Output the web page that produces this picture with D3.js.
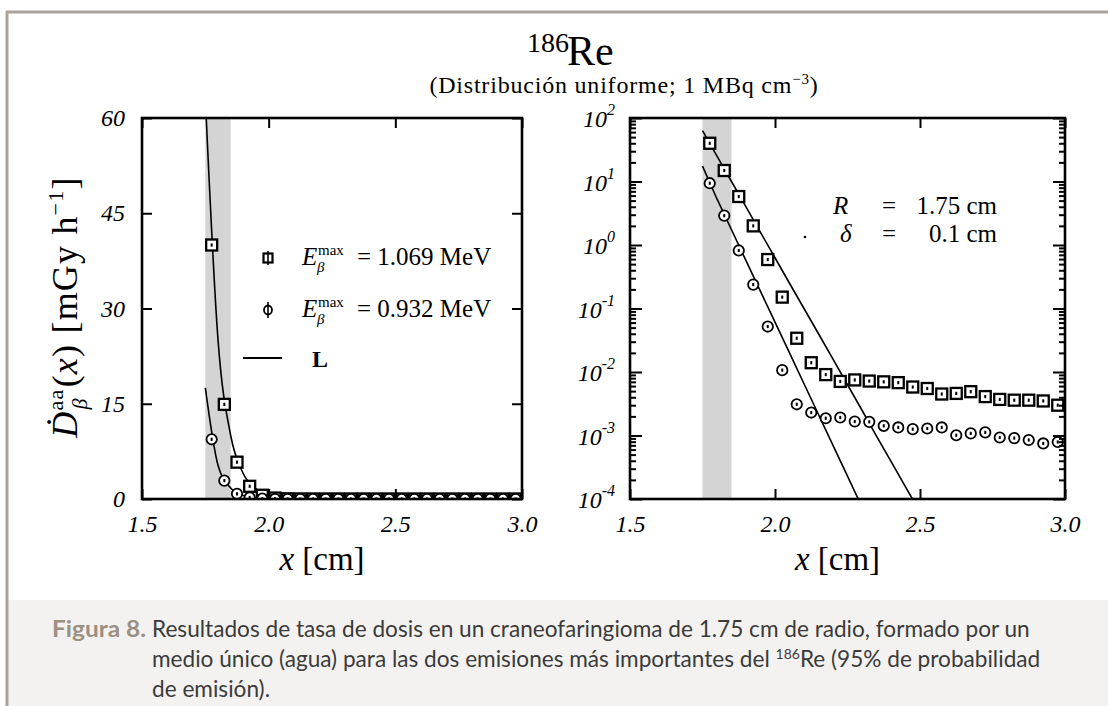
<!DOCTYPE html>
<html>
<head>
<meta charset="utf-8">
<script src="https://cdn.jsdelivr.net/npm/d3@7"></script>
<style>
body { margin: 0; background: #fff; }
svg { display: block; }
</style>
</head>
<body>
<div id="chart"></div>
<script>
var width = 1108;
var height = 706;

// data -------------------------------------------------------------
var xPoints = [1.775, 1.825, 1.875, 1.925, 1.975, 2.025, 2.075, 2.125, 2.175, 2.225,
	2.275, 2.325, 2.375, 2.425, 2.475, 2.525, 2.575, 2.625, 2.675, 2.725,
	2.775, 2.825, 2.875, 2.925, 2.975];

// E max = 1.069 MeV (squares)
var squareVals = [40, 14.9, 5.8, 2.0, 0.59, 0.151, 0.034, 0.014, 0.0091, 0.0071,
	0.0075, 0.0072, 0.0070, 0.0068, 0.0058, 0.0055, 0.0045, 0.0046, 0.0049, 0.0041,
	0.0037, 0.0036, 0.0036, 0.0035, 0.0030];

// E max = 0.932 MeV (circles)
var circleVals = [9.4, 2.9, 0.82, 0.238, 0.052, 0.0107, 0.0031, 0.0023, 0.00187, 0.00192,
	0.00166, 0.00164, 0.00142, 0.00134, 0.00126, 0.00129, 0.00134, 0.00101, 0.00108, 0.00112,
	0.00093, 0.00091, 0.00085, 0.00075, 0.00079];

// curve L
var lineXSquare = [1.75, 1.80, 1.85, 1.90, 1.95, 2.00, 2.05, 2.10, 2.15, 2.20, 2.25, 2.30, 2.35, 2.40, 2.45, 2.474];
var lineSquare = [63.1, 25.1, 10.0, 3.98, 1.58, 0.63, 0.25, 0.10, 0.040, 0.016, 0.0063, 0.0025, 0.00098, 0.00039, 0.000155, 0.0001];
var lineXCircle = [1.75, 1.80, 1.85, 1.90, 1.95, 2.00, 2.05, 2.10, 2.15, 2.20, 2.25, 2.287];
var lineCircle = [17.5, 5.31, 1.74, 0.569, 0.186, 0.061, 0.020, 0.00653, 0.00214, 0.0007, 0.000229, 0.0001];

var bandRange = [1.75, 1.85];
var xTickLabels = [1.5, 2.0, 2.5, 3.0];
var linTicks = [0, 15, 30, 45, 60];
var logDecades = [-4, -3, -2, -1, 0, 1, 2];
var legendLabels = ["= 1.069 MeV", "= 0.932 MeV"];

var serif = "'Liberation Serif', 'Times New Roman', serif";

// scales -----------------------------------------------------------
var xL = d3.scaleLinear().domain([1.5, 3]).range([142, 522]);
var yL = d3.scaleLinear().domain([0, 60]).range([499, 118]);
var xR = d3.scaleLinear().domain([1.5, 3]).range([630, 1065]);
var yR = d3.scaleLog().domain([1e-4, 1e2]).range([499, 118]);

var svg = d3.select("#chart")
	.append("svg")
	.attr("width", width)
	.attr("height", height);

// frame + caption background ---------------------------------------
svg.append("rect")
	.attr("x", 8).attr("y", 600)
	.attr("width", width - 8).attr("height", height - 600)
	.attr("fill", "#f3f2f0");
svg.append("line")
	.attr("x1", 6).attr("x2", width).attr("y1", 12).attr("y2", 12)
	.attr("stroke", "#aba297").attr("stroke-width", 3);
svg.append("line")
	.attr("x1", 7).attr("x2", 7).attr("y1", 11).attr("y2", height)
	.attr("stroke", "#aba297").attr("stroke-width", 3);

// titles -----------------------------------------------------------
svg.append("text")
	.attr("x", 527).attr("y", 52)
	.attr("font-family", serif).attr("font-size", 28)
	.text("186");
svg.append("text")
	.attr("x", 567).attr("y", 65)
	.attr("font-family", serif).attr("font-size", 42)
	.text("Re");

var sub = svg.append("text")
	.attr("x", 624).attr("y", 93)
	.attr("text-anchor", "middle")
	.attr("letter-spacing", 0.8)
	.attr("font-family", serif).attr("font-size", 24);
sub.append("tspan").text("(Distribución uniforme; 1 MBq cm");
sub.append("tspan").attr("dy", -9).attr("font-size", 15).text("\u22123");
sub.append("tspan").attr("dy", 9).text(")");

// panels -----------------------------------------------------------
function panel(id, x, y, isLog) {
	var g = svg.append("g");
	var r = x.range(), t = y.range();

	g.append("clipPath").attr("id", id)
		.append("rect")
		.attr("x", r[0]).attr("y", t[1])
		.attr("width", r[1] - r[0]).attr("height", t[0] - t[1]);

	var inner = g.append("g").attr("clip-path", "url(#" + id + ")");

	// shaded band
	inner.append("rect")
		.attr("x", x(bandRange[0]))
		.attr("y", t[1])
		.attr("width", x(bandRange[1]) - x(bandRange[0]))
		.attr("height", t[0] - t[1])
		.attr("fill", "#d4d4d4");

	// L lines
	var line = d3.line()
		.x(function(d) { return x(d[0]); })
		.y(function(d) { return y(d[1]); })
		.curve(isLog ? d3.curveLinear : d3.curveMonotoneX);

	[[lineXSquare, lineSquare], [lineXCircle, lineCircle]].forEach(function(s) {
		inner.append("path")
			.datum(d3.zip(s[0], s[1]))
			.attr("d", line)
			.attr("fill", "none")
			.attr("stroke", "#000")
			.attr("stroke-width", 1.6);
	});

	// squares
	var sq = inner.selectAll(".sq")
		.data(d3.zip(xPoints, squareVals))
		.join("g")
		.attr("transform", function(d) { return "translate(" + x(d[0]) + "," + y(d[1]) + ")"; });
	sq.append("rect")
		.attr("x", -5.5).attr("y", -5.5).attr("width", 11).attr("height", 11)
		.attr("fill", "#fff").attr("stroke", "#000").attr("stroke-width", 2.3);
	sq.append("line")
		.attr("y1", -1.6).attr("y2", 1.6)
		.attr("stroke", "#000").attr("stroke-width", 2);

	// circles
	var ci = inner.selectAll(".ci")
		.data(d3.zip(xPoints, circleVals))
		.join("g")
		.attr("transform", function(d) { return "translate(" + x(d[0]) + "," + y(d[1]) + ")"; });
	ci.append("circle")
		.attr("r", 5.2)
		.attr("fill", "#fff").attr("stroke", "#000").attr("stroke-width", 1.8);
	ci.append("line")
		.attr("y1", -1.6).attr("y2", 1.6)
		.attr("stroke", "#000").attr("stroke-width", 2);

	// axes
	function style(a) {
		a.select(".domain").remove();
		a.selectAll(".tick line").attr("stroke-width", 2);
		a.attr("font-family", serif).attr("font-size", 24).attr("font-style", "italic");
		a.selectAll("text").attr("fill", "#000");
	}

	g.append("g").attr("transform", "translate(0," + t[0] + ")")
		.call(d3.axisBottom(x).tickValues(xTickLabels).tickSize(-10).tickPadding(16).tickFormat(d3.format(".1f")))
		.call(style);
	g.append("g").attr("transform", "translate(0," + t[1] + ")")
		.call(d3.axisTop(x).tickValues(xTickLabels).tickSize(-10).tickFormat(""))
		.call(style);

	if (!isLog) {
		g.append("g").attr("transform", "translate(" + r[0] + ",0)")
			.call(d3.axisLeft(y).tickValues(linTicks).tickSize(-10).tickPadding(17))
			.call(style);
		g.append("g").attr("transform", "translate(" + r[1] + ",0)")
			.call(d3.axisRight(y).tickValues(linTicks).tickSize(-10).tickFormat(""))
			.call(style);
	} else {
		var major = logDecades.map(function(d) { return Math.pow(10, d); });
		var minor = y.ticks().filter(function(v) {
			var l = Math.log10(v);
			return Math.abs(l - Math.round(l)) > 1e-6;
		});
		[[d3.axisLeft, r[0]], [d3.axisRight, r[1]]].forEach(function(a) {
			g.append("g").attr("transform", "translate(" + a[1] + ",0)")
				.call(a[0](y).tickValues(major).tickSize(-12).tickFormat(""))
				.call(style);
			g.append("g").attr("transform", "translate(" + a[1] + ",0)")
				.call(a[0](y).tickValues(minor).tickSize(-6).tickFormat(""))
				.call(style);
		});
		var labs = g.selectAll(".ylab")
			.data(logDecades)
			.join("text")
			.attr("x", 615)
			.attr("y", function(d) { return y(Math.pow(10, d)) + 9; })
			.attr("text-anchor", "end")
			.attr("font-family", serif).attr("font-style", "italic").attr("font-size", 24);
		labs.append("tspan").text("10");
		labs.append("tspan").attr("dy", -12).attr("font-size", 16)
			.text(function(d) { return d; });
	}

	// frame
	g.append("rect")
		.attr("x", r[0]).attr("y", t[1])
		.attr("width", r[1] - r[0]).attr("height", t[0] - t[1])
		.attr("fill", "none").attr("stroke", "#000").attr("stroke-width", 2.6);

	// x title
	var xt = g.append("text")
		.attr("x", (r[0] + r[1]) / 2 - 10).attr("y", 570)
		.attr("text-anchor", "middle")
		.attr("font-family", serif).attr("font-size", 33);
	xt.append("tspan").attr("font-style", "italic").text("x");
	xt.append("tspan").text(" [cm]");

	return g;
}

var left = panel("clipL", xL, yL, false);
var right = panel("clipR", xR, yR, true);

// y title ----------------------------------------------------------
var yt = svg.append("text")
	.attr("transform", "translate(77,307) rotate(-90)")
	.attr("text-anchor", "middle")
	.attr("letter-spacing", 1.2)
	.attr("font-family", serif).attr("font-size", 36);
yt.append("tspan").attr("font-style", "italic").text("\u1E0A");
yt.append("tspan").attr("font-size", 22).attr("dy", -14).text("aa");
yt.append("tspan").attr("font-size", 22).attr("font-style", "italic").attr("dx", -21).attr("dy", 24).text("\u03B2");
yt.append("tspan").attr("dy", -10).attr("dx", 10).text("(");
yt.append("tspan").attr("font-style", "italic").text("x");
yt.append("tspan").text(") [mGy h");
yt.append("tspan").attr("font-size", 22).attr("dy", -14).text("\u22121");
yt.append("tspan").attr("dy", 14).text("]");

// legend (left panel) ----------------------------------------------
var legY = [258, 310];
legendLabels.forEach(function(lab, i) {
	var cy = legY[i];
	if (i === 0) {
		svg.append("rect")
			.attr("x", 263.5).attr("y", cy - 4.5).attr("width", 9).attr("height", 9)
			.attr("fill", "#fff").attr("stroke", "#000").attr("stroke-width", 2.2);
		svg.append("line")
			.attr("x1", 268).attr("x2", 268).attr("y1", cy - 7).attr("y2", cy + 7)
			.attr("stroke", "#000").attr("stroke-width", 1.6);
	} else {
		svg.append("ellipse")
			.attr("cx", 268).attr("cy", cy).attr("rx", 4).attr("ry", 4.5)
			.attr("fill", "#fff").attr("stroke", "#000").attr("stroke-width", 1.8);
		svg.append("line")
			.attr("x1", 268).attr("x2", 268).attr("y1", cy - 8).attr("y2", cy + 8)
			.attr("stroke", "#000").attr("stroke-width", 1.6);
	}
	var t = svg.append("text")
		.attr("y", cy + 7)
		.attr("font-family", serif).attr("font-size", 25);
	t.append("tspan").attr("x", 302).attr("font-style", "italic").text("E");
	t.append("tspan").attr("x", 318).attr("dy", -10).attr("font-size", 15).text("max");
	t.append("tspan").attr("x", 317).attr("dy", 17).attr("font-size", 15).attr("font-style", "italic").text("\u03B2");
	t.append("tspan").attr("x", 357).attr("dy", -7).text(lab);
});
svg.append("line")
	.attr("x1", 243).attr("x2", 282).attr("y1", 358).attr("y2", 358)
	.attr("stroke", "#000").attr("stroke-width", 2);
svg.append("text")
	.attr("x", 312).attr("y", 367)
	.attr("font-family", serif).attr("font-size", 24).attr("font-weight", "bold")
	.text("L");

// annotation (right panel) -----------------------------------------
var annot = [["R", "1.75 cm", 214], ["\u03B4", "0.1 cm", 242]];
annot.forEach(function(a) {
	svg.append("text").attr("x", a[0] === "R" ? 833 : 840).attr("y", a[2])
		.attr("font-family", serif).attr("font-size", 25).attr("font-style", "italic").text(a[0]);
	svg.append("text").attr("x", 882).attr("y", a[2])
		.attr("font-family", serif).attr("font-size", 25).text("=");
	svg.append("text").attr("x", 997).attr("y", a[2]).attr("text-anchor", "end")
		.attr("font-family", serif).attr("font-size", 25).text(a[1]);
});
svg.append("circle").attr("cx", 805).attr("cy", 237).attr("r", 1.3).attr("fill", "#000");

// caption ----------------------------------------------------------
var capFont = "Lato, 'Open Sans', sans-serif";
var capLines = [
	["Resultados de tasa de dosis en un craneofaringioma de 1.75 cm de radio, formado por un"],
	["medio único (agua) para las dos emisiones más importantes del ", "186", "Re (95% de probabilidad"],
	["de emisión)."]
];
var cap = svg.append("g");
cap.append("text")
	.attr("x", 52).attr("y", 637)
	.attr("font-family", capFont).attr("font-size", 22).attr("font-weight", "bold")
	.attr("textLength", 94).attr("lengthAdjust", "spacingAndGlyphs")
	.attr("fill", "#9c9083")
	.text("Figura 8.");
var capTexts = capLines.map(function(parts, i) {
	var t = cap.append("text")
		.attr("x", 152).attr("y", 637 + i * 30)
		.attr("font-family", capFont).attr("font-size", 21)
		.attr("fill", "#3b3b3b");
	parts.forEach(function(p, j) {
		if (j === 1) {
			t.append("tspan").attr("dy", -8).attr("font-size", 13).text(p);
		} else if (j === 2) {
			t.append("tspan").attr("dy", 8).text(p);
		} else {
			t.append("tspan").text(p);
		}
	});
	return t;
});
// fit the first line to the reference width
var len = capTexts[0].node().getComputedTextLength();
var fs = 21 * 878 / len;
capTexts.forEach(function(t) {
	t.attr("font-size", fs);
	t.selectAll("tspan").filter(function(d, j) { return j === 1 && this.textContent === "186"; })
		.attr("font-size", fs * 0.62);
});
</script>
</body>
</html>
